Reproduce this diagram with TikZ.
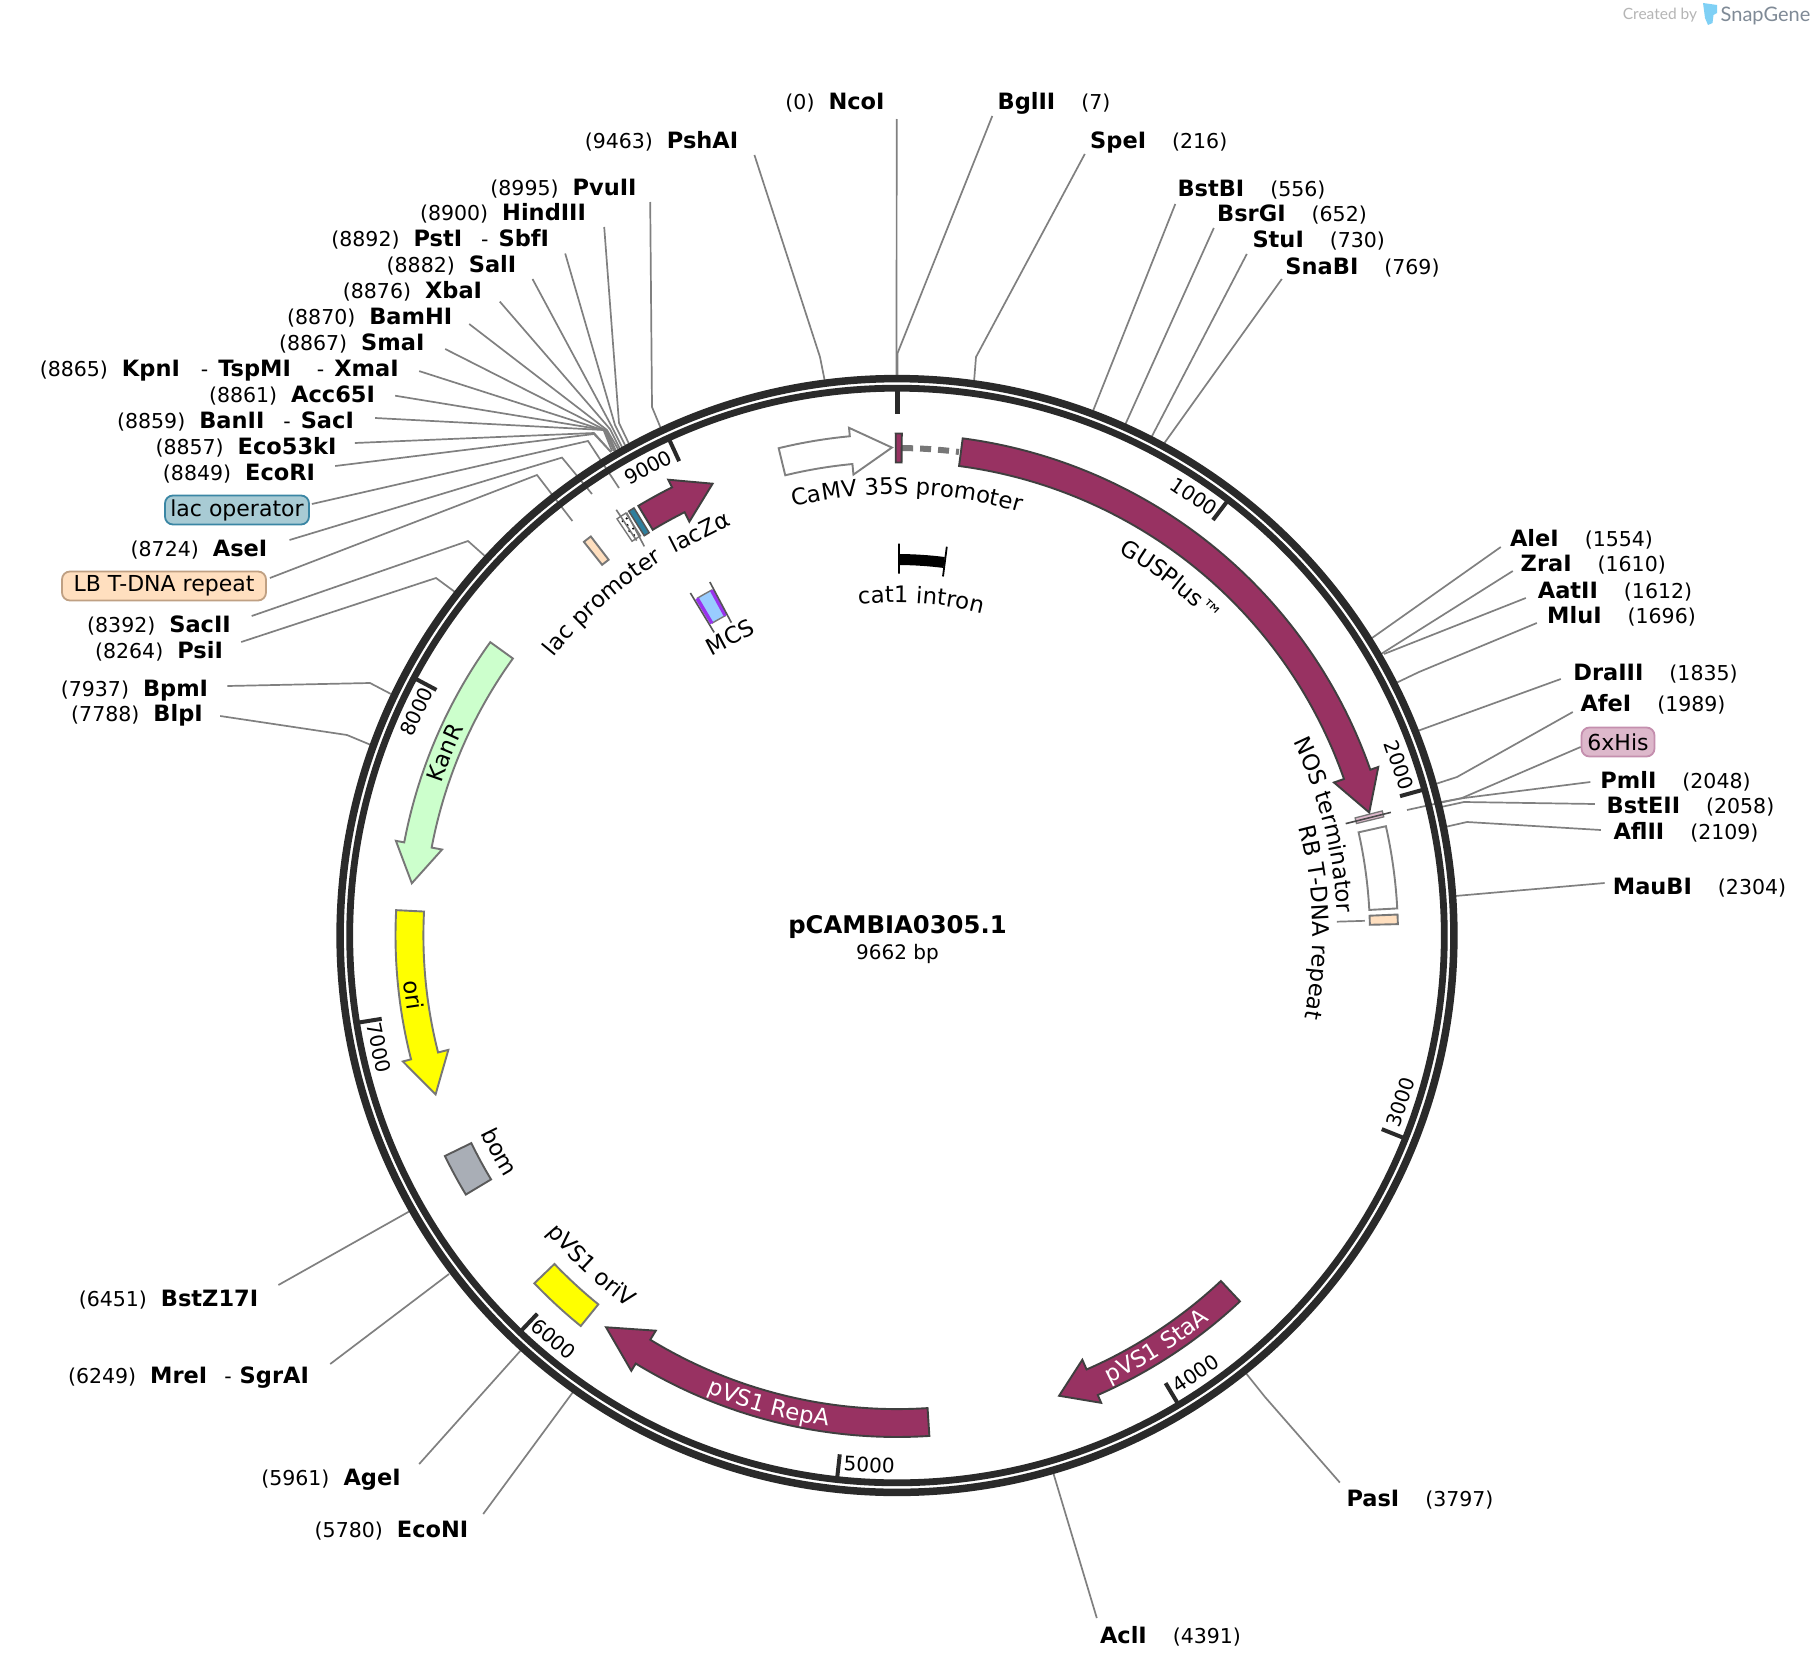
\documentclass[tikz,border=0pt]{standalone}
\usepackage{fontspec}
\setmainfont{DejaVu Sans}
\newfontfamily\logofont{Lato}
\usetikzlibrary{decorations.text}
\definecolor{mag}{HTML}{983262}
\definecolor{ringc}{HTML}{2A2A2A}
\definecolor{leadc}{HTML}{808080}
\definecolor{outl}{HTML}{777777}
\definecolor{orange1}{HTML}{FFDFBF}
\definecolor{orangeb}{HTML}{BFA083}
\definecolor{yell}{HTML}{FFFF00}
\definecolor{opfill}{HTML}{A8CBD4}
\definecolor{opdraw}{HTML}{3A86A4}
\definecolor{teal1}{HTML}{2F7F9E}
\definecolor{pink1}{HTML}{DDB8CB}
\definecolor{pink2}{HTML}{C48FAE}
\definecolor{mcsb}{HTML}{99CCFF}
\definecolor{mcsp}{HTML}{9933EE}
\definecolor{bomc}{HTML}{A9AEB6}
\definecolor{kanc}{HTML}{CCFFCC}
\definecolor{logob}{HTML}{7FD0F5}
\definecolor{logog}{HTML}{7F8A96}
\definecolor{logoc}{HTML}{B5B5B5}
\newcommand\nm[1]{{\fontsize{22.5}{24}\selectfont\bfseries #1}}
\newcommand\Lft[2]{(#1)\hspace{14pt}\nm{#2}}
\newcommand\Rgt[2]{\nm{#1}\hspace{26pt}(#2)}
\newcommand\lab[5]{\node[lab,minimum width={(#3)-(#2)}] (#1) at ({((#2)+(#3))/2},#4) {#5};}
\newcommand\lead[8]{\coordinate (#1-b) at (#5,#6);\coordinate (#1-e) at (#7,#8);
  \draw[leader] ([shift={(#3,#4)}]#1.#2) -- (#1-b) -- (#1-e);}
\newcommand\farc[5][]{\draw[#1] ({90-(#2)}:#5) arc[start angle={90-(#2)},end angle={90-(#3)},radius=#5] -- ({90-(#3)}:#4) arc[start angle={90-(#3)},end angle={90-(#2)},radius=#4] -- cycle;}
\newcommand\farrow[4][]{\draw[#1] ({90-(#2)}:501.5) arc[start angle={90-(#2)},end angle={90-(#3)},radius=501.5] -- ({90-(#3)}:510) -- ({90-(#4)}:488) -- ({90-(#3)}:463) -- ({90-(#3)}:473.6) arc[start angle={90-(#3)},end angle={90-(#2)},radius=473.6] -- cycle;}
\newcommand\arclab[5][]{\path[decorate,decoration={text along path,text align=center,text={|\fontsize{22.8}{26}\selectfont#1|#2}}] ({90-((#3)-(#5))}:#4) arc[start angle={90-((#3)-(#5))},end angle={90-((#3)+(#5))},radius=#4];}
\newcommand\ticklab[3]{\node[tickl,rotate=#3] (t#1) at ({90-(#2)}:530) {#1};\draw[tickm] ({90-(#1/9662*360)}:522) -- ({90-(#1/9662*360)}:545);}
\tikzset{
  lab/.style={inner sep=0pt,text height=14pt,text depth=0pt,font=\fontsize{20.5}{24}\selectfont},
  leader/.style={draw=leadc,line width=1.7pt},
  feat/.style={draw=outl,line width=1.9pt,line join=miter},
  mfeat/.style={draw=ringc!90,line width=1.9pt,fill=mag,line join=miter},
  box/.style={rounded corners=8pt,inner sep=0pt,font=\fontsize{22}{26}\selectfont,line width=1.8pt,minimum height=29pt},
  tickl/.style={inner sep=0pt,font=\fontsize{20}{24}\selectfont},
  tickm/.style={draw=ringc,line width=4pt},
  flab/.style={inner sep=0pt,font=\fontsize{22.8}{26}\selectfont},
}
\begin{document}
\begin{tikzpicture}[x=1pt,y=-1pt]
\fill[white] (0,0) rectangle (1816,1670);
\path[use as bounding box] (0,0) rectangle (1816,1670);
% logo
\node[inner sep=0pt,text=logoc,font=\logofont\fontsize{15.5}{18}\selectfont] (logoa) at (1660,15.5) {Created by};
\node[inner sep=0pt,text=logog,font=\logofont\fontsize{20}{24}\selectfont] (logob) at (1765.5,15.5) {SnapGene};
\fill[logob] (1703,3) -- (1717,5) -- (1717,13) -- (1713.5,15) -- (1712.5,23) -- (1708,25) -- (1705,18) -- cycle;
% labels, top and left
\lab{NcoI}{784}{886}{103}{\Lft{0}{NcoI}}
\lab{PshAI}{585}{738}{141}{\Lft{9463}{PshAI}}
\lab{PvuII}{488}{639}{188}{\Lft{8995}{PvuII}}
\lab{HindIII}{417}{589}{213.5}{\Lft{8900}{HindIII}}
\lab{PstI}{331}{549.5}{239}{\Lft{8892}{PstI}\hspace{19pt}-\hspace{10pt}\nm{SbfI}}
\lab{SalI}{387}{516}{265}{\Lft{8882}{SalI}}
\lab{XbaI}{343}{482}{291}{\Lft{8876}{XbaI}}
\lab{BamHI}{287}{452.5}{317}{\Lft{8870}{BamHI}}
\lab{SmaI}{279}{424.5}{343}{\Lft{8867}{SmaI}}
\lab{KpnI}{39}{399.5}{369}{\Lft{8865}{KpnI}\hspace{21pt}-\hspace{10pt}\nm{TspMI}\hspace{26pt}-\hspace{10pt}\nm{XmaI}}
\lab{Acc}{209}{375}{395}{\Lft{8861}{Acc65I}}
\lab{BanII}{115}{356}{421.5}{\Lft{8859}{BanII}\hspace{19pt}-\hspace{10pt}\nm{SacI}}
\lab{Eco}{155}{337}{447}{\Lft{8857}{Eco53kI}}
\lab{EcoRI}{163}{315}{473}{\Lft{8849}{EcoRI}}
\node[box,draw=opdraw,fill=opfill,minimum width=144pt] (lacop) at (237,510) {lac operator};
\lab{AseI}{131}{267}{549}{\Lft{8724}{AseI}}
\node[box,draw=orangeb,fill=orange1,minimum width=204pt] (LB) at (164,586) {LB T-DNA repeat};
\lab{SacII}{85}{233}{625}{\Lft{8392}{SacII}}
\lab{PsiI}{95}{223}{651}{\Lft{8264}{PsiI}}
\lab{BpmI}{61}{208}{689}{\Lft{7937}{BpmI}}
\lab{BlpI}{71}{203}{714.5}{\Lft{7788}{BlpI}}
\lab{BstZ}{79}{258}{1299}{\Lft{6451}{BstZ17I}}
\lab{MreI}{67}{310}{1376.5}{\Lft{6249}{MreI}\hspace{17pt}-\hspace{8pt}\nm{SgrAI}}
\lab{AgeI}{261}{401}{1478.5}{\Lft{5961}{AgeI}}
\lab{EcoNI}{314}{469}{1530.5}{\Lft{5780}{EcoNI}}
% labels, top and right
\lab{BglII}{994}{1114}{103}{\Rgt{BglII}{7}}
\lab{SpeI}{1087.5}{1230}{141}{\Rgt{SpeI}{216}}
\lab{BstBI}{1177}{1326}{189.5}{\Rgt{BstBI}{556}}
\lab{BsrGI}{1216}{1368}{214.5}{\Rgt{BsrGI}{652}}
\lab{StuI}{1250}{1387.5}{240.5}{\Rgt{StuI}{730}}
\lab{SnaBI}{1283}{1442}{267}{\Rgt{SnaBI}{769}}
\lab{AleI}{1508}{1655}{539}{\Rgt{AleI}{1554}}
\lab{ZraI}{1519.5}{1667}{564.5}{\Rgt{ZraI}{1610}}
\lab{AatII}{1533}{1697}{591}{\Rgt{AatII}{1612}}
\lab{MluI}{1546}{1697}{616.5}{\Rgt{MluI}{1696}}
\lab{DraIII}{1568}{1743}{673.5}{\Rgt{DraIII}{1835}}
\lab{AfeI}{1577}{1729}{704.5}{\Rgt{AfeI}{1989}}
\node[box,draw=pink2,fill=pink1,minimum width=73pt] (His) at (1618,742) {6xHis};
\lab{PmlI}{1599}{1752}{781.5}{\Rgt{PmlI}{2048}}
\lab{BstEII}{1603}{1778}{806.5}{\Rgt{BstEII}{2058}}
\lab{AflII}{1609}{1763}{832.5}{\Rgt{AflII}{2109}}
\lab{MauBI}{1613}{1786}{887.5}{\Rgt{MauBI}{2304}}
\lab{AclI}{1098}{1243}{1636.5}{\Rgt{AclI}{4391}}
\lab{PasI}{1345}{1495}{1499.5}{\Rgt{PasI}{3797}}
% leaders
\lead{NcoI}{east}{10.5}{16}{896.5}{377}{896.5}{377}
\lead{PshAI}{east}{16}{14}{820}{357}{824.6}{380}
\lead{PvuII}{east}{11}{14}{652}{407}{660.7}{428}
\lead{HindIII}{east}{15}{13.5}{619}{423}{628.6}{443}
\lead{PstI}{east}{15.5}{14.5}{615}{425}{625}{445}
\lead{SalI}{east}{16}{14}{612}{427}{622}{447}
\lead{XbaI}{east}{17.5}{10.6}{610}{429}{620}{449}
\lead{BamHI}{east}{16.5}{7}{607}{430}{618}{449}
\lead{SmaI}{east}{20.5}{6}{607}{431}{616}{451}
\lead{KpnI}{east}{19.5}{2.1}{606}{431}{615}{451}
\lead{Acc}{east}{20}{.7}{604.6}{430}{614}{451}
\lead{BanII}{east}{19}{-3.5}{603.6}{430}{612}{451}
\lead{Eco}{east}{17.6}{-4}{594}{433}{611}{452}
\lead{EcoRI}{east}{20}{-7}{594}{434}{611}{452}
\lead{lacop}{east}{2}{-6}{588}{441}{619}{488}
\lead{AseI}{east}{22}{-9}{562}{457.6}{592}{494}
\lead{LB}{east}{3}{-8}{537}{475}{572.4}{521}
\lead{SacII}{east}{18.5}{-9}{468}{541}{486}{557}
\lead{PsiI}{east}{18}{-9}{436}{578}{455}{592}
\lead{BpmI}{east}{19}{-3}{370}{683}{391}{694}
\lead{BlpI}{east}{17}{1.5}{347}{735}{371}{745}
\lead{BstZ}{east}{20}{-14}{410}{1211}{410}{1211}
\lead{MreI}{east}{20}{-12.5}{449}{1274}{449}{1274}
\lead{AgeI}{east}{18}{-14.5}{522}{1349}{522}{1349}
\lead{EcoNI}{east}{14}{-16.5}{573}{1392}{573}{1392}
\lead{BglII}{west}{-1.5}{13}{897.6}{353}{897.6}{377}
\lead{SpeI}{west}{-2.5}{13}{976}{357}{974}{382}
\lead{BstBI}{west}{-1.5}{14.5}{1093}{411}{1093}{411}
\lead{BsrGI}{west}{-2}{13.5}{1124.6}{426}{1124.6}{426}
\lead{StuI}{west}{-3}{13.5}{1151}{438}{1151}{438}
\lead{SnaBI}{west}{-1}{12}{1163}{445}{1163}{445}
\lead{AleI}{west}{-7}{8}{1372}{638}{1372}{638}
\lead{ZraI}{west}{-6.5}{6.5}{1381}{654}{1381}{654}
\lead{AatII}{west}{-7}{7}{1384}{654}{1384}{654}
\lead{MluI}{west}{-9}{6.5}{1419}{672}{1396}{683}
\lead{DraIII}{west}{-7}{5.5}{1417.5}{731}{1417.5}{731}
\lead{AfeI}{west}{-4}{7.5}{1457}{777}{1435.5}{784}
\lead{His}{west}{0}{5}{1462}{798}{1407}{810}
\lead{PmlI}{west}{-8.5}{.5}{1464}{798}{1441}{802}
\lead{BstEII}{west}{-8}{-2.5}{1464}{802}{1441}{807}
\lead{AflII}{west}{-8}{-2.5}{1467}{822}{1445}{827}
\lead{MauBI}{west}{-8}{-4.5}{1455}{896}{1455}{896}
\lead{AclI}{west}{-1}{-18.5}{1053}{1472}{1053}{1472}
\lead{PasI}{west}{-5}{-17}{1265}{1397}{1245}{1372}
% inside the ring
\begin{scope}[shift={(897,935.5)},y=1pt]
\draw[draw=ringc,line width=7.5pt] (0,0) circle[radius=556.9];
\draw[draw=ringc,line width=6.8pt] (0,0) circle[radius=547.3];
\ticklab{1000}{34.1}{-34.1}
\ticklab{2000}{71.3}{-71.3}
\ticklab{3000}{108.3}{71.7}
\ticklab{4000}{145.7}{34.3}
\ticklab{5000}{183}{-3}
\ticklab{6000}{220.4}{-40.4}
\ticklab{7000}{257.8}{-77.8}
\ticklab{8000}{-65}{65}
\ticklab{9000}{-28}{28}
\draw[tickm,line width=5pt] (90:522) -- (90:545);
% features
\farrow[feat,fill=white,draw=leadc]{-13.65}{-5.4}{-0.6}
\draw[draw=outl,line width=6pt,dash pattern=on 11pt off 7pt] ({90-0.6}:487.5) arc[start angle={90-0.6},end angle={90-7.3},radius=487.5];
\farc[mfeat]{-0.15}{0.55}{473}{502}
\farrow[mfeat]{7.53}{70.7}{75.4}
\farc[feat,line width=1.3pt,fill=pink1]{75.6}{76.3}{473}{501}
\draw[draw=ringc!85,line width=1.6pt] ({90-76}:462.4) -- ({90-76}:509);
\farc[feat,fill=white,draw=leadc]{77.4}{86.9}{473}{501}
\farc[feat,fill=orange1]{87.6}{88.7}{473}{501}
\draw[leader] ({90-88.2}:440) -- ({90-88.2}:468);
\draw[draw=black,line width=11pt] ({90-0.4}:376) arc[start angle={90-0.4},end angle={90-7.2},radius=376];
\draw[draw=black,line width=1.8pt] ({90-0.3}:362) -- ({90-0.3}:392);
\draw[draw=black,line width=1.8pt] ({90-7.3}:362) -- ({90-7.3}:392);
\farrow[mfeat]{-31.05}{-26.65}{-22.2}
\farc[feat,line width=1.5pt,fill=teal1,draw=ringc!80]{-32.3}{-31.6}{473}{502}
\farc[feat,line width=1.4pt,fill=white,draw=outl]{-33.9}{-32.7}{475}{502}
\foreach \r/\a in {479/-33.3,485/-33.5,485/-32.95,491/-33.3,497/-33.5,497/-32.95}{\fill[black] ({90-(\a)}:\r) circle[radius=1.2];}
\draw[draw=outl,line width=1.6pt] ({90+33.4}:473) -- ({90+33.4}:510);
\draw[draw=outl,line width=1.6pt] ({90+33}:464) -- ({90+32.6}:502);
\farc[feat,fill=orange1]{-38.5}{-37.5}{473.7}{503}
\farc[feat,line width=1.4pt,fill=mcsb]{-30.6}{-28.2}{363}{392}
\farc[draw=none,fill=mcsp]{-30.95}{-30.4}{363}{392}
\farc[draw=none,fill=mcsp]{-28.5}{-27.95}{363}{392}
\draw[draw=ringc!80,line width=1.6pt] ({90+31.1}:354) -- ({90+31.1}:400);
\draw[draw=ringc!80,line width=1.6pt] ({90+27.9}:354) -- ({90+27.9}:400);
\farrow[feat,fill=kanc]{-54.2}{-79.3}{-83.85}
\farrow[feat,fill=yell]{-87.1}{-104.3}{-109}
\farc[feat,fill=bomc,draw=black!65]{-116}{-121}{473.6}{503}
\farc[feat,fill=yell]{-133.8}{-141}{474.6}{502.5}
\farrow[mfeat]{176.3}{211.4}{216.6}
\farrow[mfeat]{136.85}{156.4}{160.6}
% feature labels
\arclab{CaMV 35S promoter}{1.3}{441}{25}
\arclab{cat1 intron}{4.1}{333}{30}
\arclab{GUSPlus™}{37.7}{443}{20}
\arclab{NOS terminator}{75.5}{441}{25}
\arclab{RB T-DNA repeat}{88.2}{416}{25}
\arclab{lac promoter}{-41.5}{442}{25}
\arclab{KanR}{-68}{480}{15}
\arclab{ori}{-97}{495.5}{-15}
\arclab{bom}{-118.6}{461}{-15}
\arclab{pVS1 oriV}{-137.2}{459}{-20}
\arclab[\color{white}]{pVS1 RepA}{195.3}{495.5}{-25}
\arclab[\color{white}]{pVS1 StaA}{147.7}{495.5}{-25}
\end{scope}
\node[flab,rotate=27] (lacZ) at (699.3,531.7) {lacZα};
\node[flab,rotate=28] (MCS) at (730,637) {MCS};
\node[inner sep=0pt,font=\fontsize{24.3}{28}\selectfont\bfseries] (title) at (897.5,927) {pCAMBIA0305.1};
\node[inner sep=0pt,font=\fontsize{20}{24}\selectfont] (size) at (897.5,954) {9662 bp};
\end{tikzpicture}
\end{document}
